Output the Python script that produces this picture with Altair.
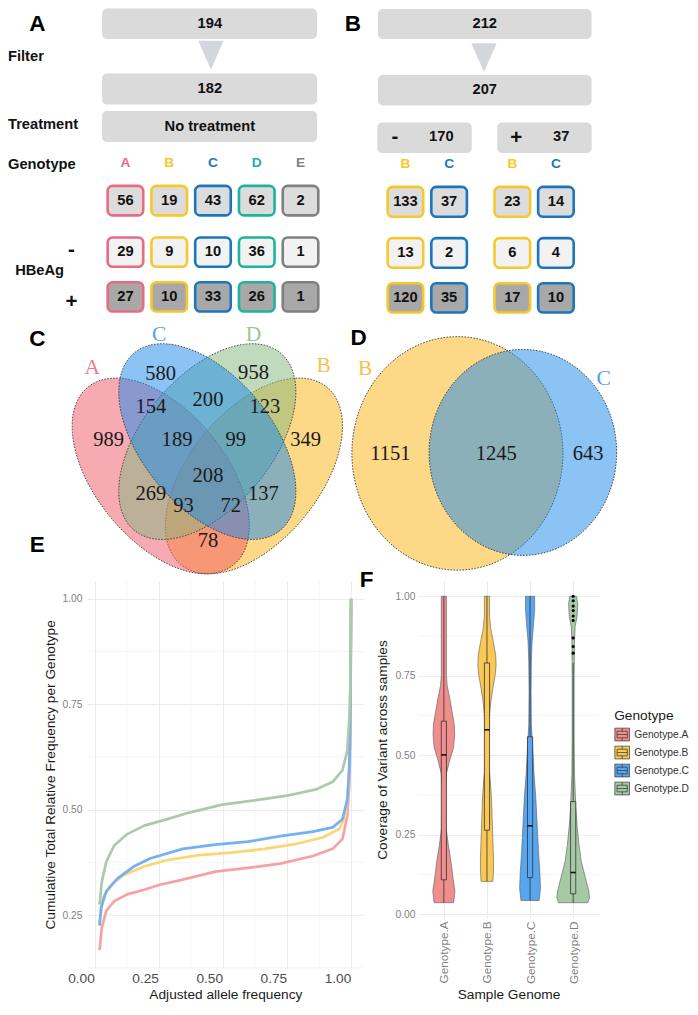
import numpy as np
import pandas as pd
import altair as alt

# ------------------------------------------------------------------
# Values
# ------------------------------------------------------------------
# Panel A (flow diagram)
a_flow = ["194", "182", "No treatment"]
a_side = ["Filter", "Treatment", "Genotype", "HBeAg"]
a_geno = ["A", "B", "C", "D", "E"]
a_all = [56, 19, 43, 62, 2]
a_neg = [29, 9, 10, 36, 1]
a_pos = [27, 10, 33, 26, 1]

# Panel B (flow diagram)
b_flow = ["212", "207"]
b_split_sign = ["-", "+"]
b_split_n = ["170", "37"]
b_geno = ["B", "C", "B", "C"]
b_all = [133, 37, 23, 14]
b_neg = [13, 2, 6, 4]
b_pos = [120, 35, 17, 10]

# Panel C: four-set Venn (region -> count)
venn4_regions = ["A", "C", "D", "B", "AC", "CD", "DB", "ACD", "CDB",
                 "ACDB", "AD", "CB", "ADB", "ACB", "AB"]
venn4_counts = [989, 580, 958, 349, 154, 200, 123, 189, 99,
                208, 269, 137, 93, 72, 78]

# Panel D: two-set Venn
venn2_regions = ["B", "BC", "C"]
venn2_counts = [1151, 1245, 643]

# Panel E: cumulative curves
e_genos = ["A", "B", "C", "D"]
e_A_x = [0.019, 0.028, 0.045, 0.076, 0.127, 0.193, 0.254, 0.343, 0.470, 0.597, 0.724, 0.851, 0.928, 0.966, 0.985, 0.993, 0.997, 1.0]
e_A_y = [0.167, 0.221, 0.260, 0.283, 0.299, 0.310, 0.322, 0.334, 0.353, 0.362, 0.372, 0.390, 0.407, 0.430, 0.485, 0.562, 0.679, 1.0]
e_B_x = [0.019, 0.032, 0.064, 0.114, 0.193, 0.280, 0.407, 0.534, 0.661, 0.788, 0.889, 0.953, 0.978, 0.991, 0.997, 1.0]
e_B_y = [0.229, 0.291, 0.322, 0.345, 0.365, 0.380, 0.392, 0.398, 0.407, 0.419, 0.434, 0.454, 0.485, 0.562, 0.717, 1.0]
e_C_x = [0.019, 0.025, 0.045, 0.089, 0.152, 0.216, 0.343, 0.470, 0.597, 0.724, 0.851, 0.928, 0.966, 0.985, 0.993, 0.997, 1.0]
e_C_y = [0.225, 0.268, 0.306, 0.337, 0.365, 0.384, 0.407, 0.417, 0.424, 0.437, 0.448, 0.458, 0.477, 0.523, 0.601, 0.717, 1.0]
e_D_x = [0.019, 0.028, 0.045, 0.076, 0.127, 0.193, 0.280, 0.369, 0.498, 0.623, 0.749, 0.864, 0.928, 0.966, 0.985, 0.993, 0.997, 1.0]
e_D_y = [0.275, 0.330, 0.376, 0.415, 0.442, 0.462, 0.477, 0.493, 0.512, 0.522, 0.533, 0.548, 0.566, 0.593, 0.640, 0.717, 0.795, 1.0]

# Panel F: violin profiles (value, half width in category units) and box stats
f_geno = ["Genotype.A", "Genotype.B", "Genotype.C", "Genotype.D"]
f_A_y = [0.036, 0.072, 0.113, 0.165, 0.216, 0.278, 0.340, 0.391, 0.442, 0.484, 0.525, 0.566, 0.597, 0.638, 0.679, 0.720, 0.751, 0.854, 0.957, 1.0]
f_A_w = [0.227, 0.257, 0.212, 0.166, 0.106, 0.045, 0.023, 0.030, 0.060, 0.136, 0.227, 0.250, 0.242, 0.189, 0.136, 0.076, 0.060, 0.060, 0.060, 0.060]
f_B_y = [0.103, 0.134, 0.175, 0.237, 0.298, 0.360, 0.422, 0.463, 0.525, 0.576, 0.628, 0.669, 0.710, 0.751, 0.782, 0.813, 0.854, 0.895, 0.936, 1.0]
f_B_w = [0.136, 0.151, 0.151, 0.136, 0.121, 0.106, 0.076, 0.045, 0.038, 0.045, 0.060, 0.091, 0.136, 0.189, 0.212, 0.204, 0.151, 0.091, 0.060, 0.060]
f_C_y = [0.043, 0.082, 0.134, 0.195, 0.278, 0.360, 0.442, 0.525, 0.597, 0.700, 0.792, 0.854, 0.905, 0.957, 1.0]
f_C_w = [0.212, 0.242, 0.227, 0.197, 0.166, 0.136, 0.091, 0.060, 0.030, 0.023, 0.030, 0.045, 0.076, 0.106, 0.106]
f_D_y = [0.036, 0.051, 0.072, 0.113, 0.165, 0.216, 0.278, 0.340, 0.442, 0.545, 0.751, 0.854, 0.905, 0.936, 0.977, 1.0]
f_D_w = [0.340, 0.378, 0.363, 0.287, 0.189, 0.136, 0.091, 0.060, 0.030, 0.023, 0.023, 0.030, 0.045, 0.091, 0.106, 0.076]
f_lo = [0.036, 0.103, 0.043, 0.036]
f_q1 = [0.108, 0.264, 0.115, 0.064]
f_med = [0.501, 0.580, 0.278, 0.131]
f_q3 = [0.607, 0.790, 0.558, 0.354]
f_hi = [1.0, 1.0, 1.0, 0.79]
f_D_out = [0.821, 0.842, 0.869, 0.924, 0.938, 0.955, 0.969, 0.986, 1.0]

# ------------------------------------------------------------------
# Styling / layout
# ------------------------------------------------------------------
SANS = "Liberation Sans"
SERIF = "Liberation Serif"
KX, KY = 0.977, 0.981      # reference px -> page px
FS = 0.979


def X(v):
    return (v - 2.0) * KX


def Y(v):
    return (v - 1.0) * KY


ROW_TOP = 583.7
W1 = int(round(X(698)))
H1 = int(round(Y(ROW_TOP)))

GCOL = {"A": "#E96B83", "B": "#F7C82B", "C": "#1B76BC", "D": "#1DB39C", "E": "#808080"}
ROW_FILL = ["#DCDCDC", "#F2F2F2", "#A8A8A8"]
VFILL = {"A": "#F15565", "C": "#1987EB", "D": "#81B57D", "B": "#FBB10F"}
VLAB = {"A": "#F2788A", "C": "#4EA3F0", "D": "#9CC59A", "B": "#F9C04A"}
E_COL = {"A": "#F7A1A4", "B": "#FCD574", "C": "#72B2F4", "D": "#A9CBA8"}
F_COL = ["#F08D8D", "#F9C855", "#58A6F0", "#A7C9A6"]

xs = alt.Scale(domain=[0, W1], nice=False, zero=False)
ys = alt.Scale(domain=[0, H1], nice=False, zero=False, reverse=True)


def rect_layer(df, **mark):
    enc = dict(x=alt.X("x1:Q", scale=xs, axis=None), x2="x2:Q",
               y=alt.Y("y1:Q", scale=ys, axis=None), y2="y2:Q")
    if "fill" in df.columns:
        enc["fill"] = alt.Fill("fill:N", scale=None)
    if "stroke" in df.columns:
        enc["stroke"] = alt.Stroke("stroke:N", scale=None)
    return alt.Chart(df).mark_rect(**mark).encode(**enc)


def text_layer(df, **mark):
    enc = dict(x=alt.X("x:Q", scale=xs, axis=None),
               y=alt.Y("y:Q", scale=ys, axis=None), text="t:N")
    if "c" in df.columns:
        enc["color"] = alt.Color("c:N", scale=None)
    return alt.Chart(df).mark_text(**mark).encode(**enc)


layers = []

# ---- big gray boxes (A and B) ----
big = []
for lab, (y1, y2) in zip(a_flow, [(0.5, 31.7), (66.7, 98.3), (105, 136.7)]):
    big.append(dict(x1=X(98.3), x2=X(318.3), y1=Y(y1), y2=Y(y2), t=lab,
                    x=X(208.6), y=Y((y1 + y2) / 2)))
for lab, (y1, y2) in zip(b_flow, [(1, 31.7), (68.3, 99.3)]):
    big.append(dict(x1=X(380.7), x2=X(599.3), y1=Y(y1), y2=Y(y2), t=lab,
                    x=X(490.0), y=Y((y1 + y2) / 2)))
split_left = [380.0, 502.7]
for i, n in enumerate(b_split_n):
    big.append(dict(x1=X(split_left[i]), x2=X(split_left[i] + 96.7), y1=Y(116.7), y2=Y(147.7),
                    t=n, x=X(split_left[i] + 65.5), y=Y(131.0)))
big_df = pd.DataFrame(big)
layers.append(rect_layer(big_df[["x1", "x2", "y1", "y2"]], cornerRadius=5, color="#DADADA"))
layers.append(text_layer(big_df[["x", "y", "t"]], font=SANS, fontWeight="bold",
                         fontSize=15 * FS, color="#111111", baseline="middle", align="center"))

# ---- arrows ----
tri_df = pd.DataFrame({"x": [X(209.7), X(489.2)], "y": [Y(48.0), Y(50.5)]})
layers.append(alt.Chart(tri_df).mark_point(
    shape="M-1,-1.13L1,-1.13L0,1.13Z", size=(26 * KX) ** 2, filled=True,
    color="#D3D6DC", opacity=1, strokeWidth=0).encode(
    x=alt.X("x:Q", scale=xs, axis=None), y=alt.Y("y:Q", scale=ys, axis=None)))

# ---- small genotype boxes ----
small = []
a_rows_y = [(180.0, 212.7), (232.7, 265.0), (278.3, 310.7)]
for r, vals in enumerate([a_all, a_neg, a_pos]):
    for i, g in enumerate(a_geno):
        left = 102.7 + 44.8 * i
        y1, y2 = a_rows_y[r]
        small.append(dict(x1=X(left + 1.3), x2=X(left + 39 - 1.3), y1=Y(y1 + 1.3), y2=Y(y2 - 1.3),
                          fill=ROW_FILL[r], stroke=GCOL[g], t=str(vals[i]),
                          x=X(left + 19.5), y=Y((y1 + y2) / 2)))
b_rows_y = [(181.0, 214.0), (233.3, 266.0), (279.3, 311.7)]
b_lefts = [389.3, 434.0, 498.7, 543.3]
for r, vals in enumerate([b_all, b_neg, b_pos]):
    for i, g in enumerate(b_geno):
        left = b_lefts[i]
        y1, y2 = b_rows_y[r]
        small.append(dict(x1=X(left + 1.3), x2=X(left + 39 - 1.3), y1=Y(y1 + 1.3), y2=Y(y2 - 1.3),
                          fill=ROW_FILL[r], stroke=GCOL[g], t=str(vals[i]),
                          x=X(left + 19.5), y=Y((y1 + y2) / 2)))
small_df = pd.DataFrame(small)
layers.append(rect_layer(small_df[["x1", "x2", "y1", "y2", "fill", "stroke"]],
                         cornerRadius=5, strokeWidth=2.6))
layers.append(text_layer(small_df[["x", "y", "t"]], font=SANS, fontWeight="bold",
                         fontSize=15 * FS, color="#111111", baseline="middle", align="center"))

# ---- genotype letters ----
lets = []
for i, g in enumerate(a_geno):
    lets.append(dict(x=X(102.7 + 44.8 * i + 19.5), y=Y(158.3), t=g, c=GCOL[g]))
for i, g in enumerate(b_geno):
    lets.append(dict(x=X(b_lefts[i] + 19.5), y=Y(159.3), t=g, c=GCOL[g]))
layers.append(text_layer(pd.DataFrame(lets), font=SANS, fontWeight="bold",
                         fontSize=14 * FS, baseline="middle", align="center"))

# ---- side labels ----
side_pos = [(2, 50.0), (2, 119.3), (2, 160.0), (9.3, 268.3)]
side_df = pd.DataFrame([dict(x=X(p[0]), y=Y(p[1]), t=s) for s, p in zip(a_side, side_pos)])
layers.append(text_layer(side_df, font=SANS, fontWeight="bold", fontSize=15 * FS,
                         color="#111111", baseline="middle", align="left"))

# ---- signs ----
sign_df = pd.DataFrame([
    dict(x=X(67.0), y=Y(246.5), t="-"), dict(x=X(67.0), y=Y(300.0), t="+"),
    dict(x=X(split_left[0] + 18), y=Y(131.0), t=b_split_sign[0]),
    dict(x=X(split_left[1] + 19.5), y=Y(133.0), t=b_split_sign[1])])
layers.append(text_layer(sign_df, font=SANS, fontWeight="bold", fontSize=21 * FS,
                         color="#111111", baseline="middle", align="center"))

# ---- panel letters ----
pl_df = pd.DataFrame([
    dict(x=X(32), y=Y(16.7), t="A"), dict(x=X(355), y=Y(16.7), t="B"),
    dict(x=X(32), y=Y(337), t="C"), dict(x=X(361), y=Y(336), t="D"),
    dict(x=X(32), y=Y(547), t="E"), dict(x=X(369), y=Y(583), t="F")])
layers.append(text_layer(pl_df, font=SANS, fontWeight="bold", fontSize=23 * FS,
                         color="#000000", baseline="middle", align="center"))

# ---- Venn C: four ellipses ----
V4_X0, V4_YC, V4_SX, V4_SY = 206.0, 442.0, 318.0, 350.0
V4_A, V4_B = 0.35, 0.20
venn4_geom = {"A": (-0.15, 0.10, 1.0), "C": (0.0, 0.0, 1.0),
              "D": (0.0, 0.0, -1.0), "B": (0.15, 0.10, -1.0)}
t = np.linspace(0, 2 * np.pi, 181)


def ellipse_layer(xr, yr, fill):
    df = pd.DataFrame({"x": X(xr), "y": Y(yr), "i": np.arange(len(xr))})
    return alt.Chart(df).mark_line(
        fill=fill, fillOpacity=0.5, stroke="#3A3A3A", strokeWidth=0.9,
        strokeDash=[1.6, 1.4]).encode(
        x=alt.X("x:Q", scale=xs, axis=None), y=alt.Y("y:Q", scale=ys, axis=None),
        order="i:Q")


for s in ["B", "A", "D", "C"]:
    cx, cy, d = venn4_geom[s]
    ux, uy = d / np.sqrt(2), 1 / np.sqrt(2)
    vx, vy = -uy, ux
    px = cx + V4_A * np.cos(t) * ux + V4_B * np.sin(t) * vx
    py = cy + V4_A * np.cos(t) * uy + V4_B * np.sin(t) * vy
    layers.append(ellipse_layer(V4_X0 + V4_SX * px, V4_YC + V4_SY * py, VFILL[s]))

# ---- Venn D: two ellipses ----
venn2_geom = {"B": (462.0, 454.0, 108.0, 119.0), "C": (529.0, 453.0, 96.0, 105.0)}
for s in ["B", "C"]:
    cx, cy, rx, ry = venn2_geom[s]
    layers.append(ellipse_layer(cx + rx * np.cos(t), cy + ry * np.sin(t), VFILL[s]))

# ---- Venn numbers ----
venn4_pos = {"A": (105, 440), "C": (158.3, 373.3), "D": (253.3, 371.7), "B": (306.7, 440),
             "AC": (148.3, 406.7), "CD": (206.7, 400), "DB": (265, 406.7),
             "ACD": (175, 440), "CDB": (235, 440), "ACDB": (206.7, 476.7),
             "AD": (148.3, 495), "CB": (263.3, 495), "ADB": (181.7, 507.7),
             "ACB": (230, 507.7), "AB": (206.7, 543.3)}
venn2_pos = {"B": (393.3, 455), "BC": (501.7, 455), "C": (595.7, 455)}
vn = [dict(x=X(venn4_pos[r][0]), y=Y(venn4_pos[r][1]), t=str(c))
      for r, c in zip(venn4_regions, venn4_counts)]
vn += [dict(x=X(venn2_pos[r][0]), y=Y(venn2_pos[r][1]), t=str(c))
       for r, c in zip(venn2_regions, venn2_counts)]
layers.append(text_layer(pd.DataFrame(vn), font=SERIF, fontSize=21 * FS,
                         color="#1A1A1A", baseline="middle", align="center"))
vl = [dict(x=X(88.3), y=Y(366.7), t="A", c=VLAB["A"]),
      dict(x=X(156.7), y=Y(333.3), t="C", c=VLAB["C"]),
      dict(x=X(253.3), y=Y(333.3), t="D", c=VLAB["D"]),
      dict(x=X(325.0), y=Y(365.0), t="B", c=VLAB["B"]),
      dict(x=X(367.7), y=Y(368.3), t="B", c=VLAB["B"]),
      dict(x=X(611.7), y=Y(378.3), t="C", c=VLAB["C"])]
layers.append(text_layer(pd.DataFrame(vl), font=SERIF, fontSize=22 * FS,
                         baseline="middle", align="center"))

top = alt.layer(*layers).properties(width=W1, height=H1)

# ------------------------------------------------------------------
# Panel E
# ------------------------------------------------------------------
E_L, E_R, E_B = 82.1, 365.3, 978.0
WE = X(E_R) - X(E_L)
HE = Y(E_B) - Y(ROW_TOP)
ex = alt.Scale(domain=[-0.03, 1.049], nice=False, zero=False)
ey = alt.Scale(domain=[0.125, 1.042], nice=False, zero=False)
ax_e_x = alt.Axis(values=[0, 0.25, 0.5, 0.75, 1.0], format=".2f",
                  title="Adjusted allele frequency", labelFont=SANS, titleFont=SANS,
                  labelFontSize=14 * FS, labelColor="#4D4D4D", labelOffset=-14 * KX,
                  labelPadding=4, ticks=False, domain=False, grid=True,
                  gridColor="#EBEBEB", gridWidth=1, titleFontSize=14 * FS,
                  titleFontWeight="normal", titleColor="#1A1A1A", titlePadding=2,
                  labelFlush=False)
ax_e_y = alt.Axis(values=[0.25, 0.5, 0.75, 1.0], format=".2f",
                  title="Cumulative Total Relative Frequency per Genotype",
                  labelFont=SANS, titleFont=SANS, labelFontSize=10.5 * FS,
                  labelColor="#7F7F7F", labelPadding=5, ticks=False, domain=False,
                  grid=True, gridColor="#EBEBEB", gridWidth=1, titleFontSize=14 * FS,
                  titleFontWeight="normal", titleColor="#1A1A1A", titlePadding=5,
                  labelFlush=False)
minor = [0.125, 0.375, 0.625, 0.875]
e_layers = [
    alt.Chart(pd.DataFrame({"v": minor})).mark_rule(color="#F1F1F1", strokeWidth=0.8).encode(
        y=alt.Y("v:Q", scale=ey, axis=ax_e_y)),
    alt.Chart(pd.DataFrame({"v": minor})).mark_rule(color="#F1F1F1", strokeWidth=0.8).encode(
        x=alt.X("v:Q", scale=ex, axis=ax_e_x)),
]
for g, ex_, ey_ in [("A", e_A_x, e_A_y), ("B", e_B_x, e_B_y), ("C", e_C_x, e_C_y), ("D", e_D_x, e_D_y)]:
    df = pd.DataFrame({"x": ex_, "y": ey_, "i": range(len(ex_))})
    e_layers.append(alt.Chart(df).mark_line(color=E_COL[g], strokeWidth=2.7, strokeJoin="round").encode(
        x=alt.X("x:Q", scale=ex, axis=ax_e_x), y=alt.Y("y:Q", scale=ey, axis=ax_e_y), order="i:Q"))
chart_e = alt.layer(*e_layers).properties(width=WE, height=HE)

# ------------------------------------------------------------------
# Panel F
# ------------------------------------------------------------------
F_L, F_R, F_B = 420.2, 605.5, 927.2
WF = X(F_R) - X(F_L)
HF = Y(F_B) - Y(ROW_TOP)
fx = alt.Scale(domain=[0.4, 4.6], nice=False, zero=False)
fy = alt.Scale(domain=[-0.012, 1.048], nice=False, zero=False)
lab_expr = "[" + ",".join("'%s'" % g for g in f_geno) + "][datum.value - 1]"
ax_f_x = alt.Axis(values=[1, 2, 3, 4], labelExpr=lab_expr, labelAngle=270,
                  labelAlign="right", labelBaseline="middle", labelFont=SANS,
                  titleFont=SANS, labelFontSize=12 * FS, labelColor="#7F7F7F",
                  labelPadding=3, ticks=False, domain=False, grid=True,
                  gridColor="#EBEBEB", title="Sample Genome", titleFontSize=14 * FS,
                  titleFontWeight="normal", titleColor="#1A1A1A", titlePadding=4,
                  labelFlush=False)
ax_f_y = alt.Axis(values=[0, 0.25, 0.5, 0.75, 1.0], format=".2f", labelFont=SANS,
                  titleFont=SANS, labelFontSize=10.5 * FS, labelColor="#7F7F7F",
                  labelPadding=3, ticks=False, domain=False, grid=True,
                  gridColor="#EBEBEB", title="Coverage of Variant across samples",
                  titleFontSize=14 * FS, titleFontWeight="normal", titleColor="#1A1A1A",
                  titlePadding=6, labelFlush=False)

vrows = []
for k, (g, yv, wv) in enumerate(zip(f_geno, [f_A_y, f_B_y, f_C_y, f_D_y],
                                     [f_A_w, f_B_w, f_C_w, f_D_w])):
    for y_, w_ in zip(yv, wv):
        vrows.append(dict(g=g, y=y_, l=k + 1 - w_, r=k + 1 + w_))
vdf = pd.DataFrame(vrows)
BW = 0.06
bdf = pd.DataFrame({"g": f_geno, "pos": [1, 2, 3, 4], "lo": f_lo, "q1": f_q1,
                    "med": f_med, "q3": f_q3, "hi": f_hi, "c": F_COL})
bdf["bl"] = bdf["pos"] - BW
bdf["br"] = bdf["pos"] + BW
odf = pd.DataFrame({"pos": 4, "v": f_D_out})

legend_shape = ("M-1,-0.87H1V0.87H-1Z M-0.7,-0.45H0.7V0.45H-0.7Z M-0.7,0H0.7 "
                "M0,-0.87V-0.45 M0,0.45V0.87")
f_legend = alt.Legend(title="Genotype", orient="none",
                      legendX=X(621) - X(F_L), legendY=Y(714) - Y(ROW_TOP),
                      titleFont=SANS, labelFont=SANS, titleFontSize=14 * FS,
                      titleFontWeight="normal", titleColor="#1A1A1A",
                      labelFontSize=10.5 * FS, labelColor="#333333",
                      symbolType=legend_shape, symbolSize=(15 * KX) ** 2,
                      symbolStrokeColor="#555555", symbolStrokeWidth=0.7,
                      symbolOpacity=1, rowPadding=2, titlePadding=4, labelOffset=4,
                      padding=0)

f_layers = [
    alt.Chart(pd.DataFrame({"v": minor})).mark_rule(color="#F1F1F1", strokeWidth=0.8).encode(
        y=alt.Y("v:Q", scale=fy, axis=ax_f_y)),
    alt.Chart(vdf).mark_area(orient="horizontal", stroke="#5A5A5A", strokeWidth=0.6,
                             opacity=1).encode(
        y=alt.Y("y:Q", scale=fy, axis=ax_f_y),
        x=alt.X("l:Q", scale=fx, axis=ax_f_x, stack=None),
        x2="r:Q",
        fill=alt.Fill("g:N", scale=alt.Scale(domain=f_geno, range=F_COL), legend=f_legend),
        detail="g:N"),
    alt.Chart(bdf).mark_rule(color="#333333", strokeWidth=0.8).encode(
        x=alt.X("pos:Q", scale=fx, axis=ax_f_x), y=alt.Y("lo:Q", scale=fy, axis=ax_f_y), y2="hi:Q"),
    alt.Chart(bdf).mark_rect(stroke="#333333", strokeWidth=0.8).encode(
        x=alt.X("bl:Q", scale=fx, axis=ax_f_x), x2="br:Q",
        y=alt.Y("q1:Q", scale=fy, axis=ax_f_y), y2="q3:Q",
        fill=alt.Fill("c:N", scale=None)),
    alt.Chart(bdf).mark_rule(color="#111111", strokeWidth=1.6).encode(
        x=alt.X("bl:Q", scale=fx, axis=ax_f_x), x2="br:Q", y=alt.Y("med:Q", scale=fy, axis=ax_f_y)),
    alt.Chart(odf).mark_circle(color="#000000", size=10, opacity=1).encode(
        x=alt.X("pos:Q", scale=fx, axis=ax_f_x), y=alt.Y("v:Q", scale=fy, axis=ax_f_y)),
]
chart_f = alt.layer(*f_layers).properties(width=WF, height=HF)


def spacer(w):
    return alt.Chart(pd.DataFrame({"v": [0]})).mark_point(opacity=0).encode(
        x=alt.X("v:Q", axis=None), y=alt.Y("v:Q", axis=None)).properties(width=w, height=10)


bottom = alt.hconcat(spacer(X(E_L)), chart_e, spacer(X(F_L) - X(E_R)), chart_f,
                     spacing=0, bounds="flush").resolve_scale(
    x="independent", y="independent", fill="independent", color="independent")

chart = alt.vconcat(top, bottom, spacing=0, bounds="flush").resolve_scale(
    x="independent", y="independent", fill="independent", color="independent"
).properties(padding=0).configure(font=SANS).configure_view(stroke=None)

chart.save("out.html", embed_options={"renderer": "svg", "actions": False})
